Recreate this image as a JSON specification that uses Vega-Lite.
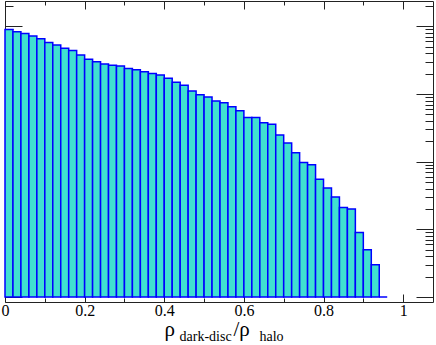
{
  "$schema": "https://vega.github.io/schema/vega-lite/v6.json",
  "width": 428,
  "height": 301,
  "autosize": "none",
  "padding": {"left": 5, "top": 1, "right": 3, "bottom": 43},
  "background": "white",
  "config": {
    "view": {"stroke": "#222", "strokeWidth": 1},
    "axis": {"domain": false, "grid": false, "tickColor": "#222", "tickWidth": 1, "labelFont": "Liberation Serif", "titleFont": "Liberation Serif", "labelColor": "#000", "titleColor": "#000", "titleFontWeight": "normal", "zindex": 1}
  },
  "data": {"values": [
    {"lo": 0.00, "hi": 0.02, "n": 8974}, {"lo": 0.02, "hi": 0.04, "n": 8293}, {"lo": 0.04, "hi": 0.06, "n": 7866},
    {"lo": 0.06, "hi": 0.08, "n": 7197}, {"lo": 0.08, "hi": 0.10, "n": 6587}, {"lo": 0.10, "hi": 0.12, "n": 5772},
    {"lo": 0.12, "hi": 0.14, "n": 5296}, {"lo": 0.14, "hi": 0.16, "n": 4742}, {"lo": 0.16, "hi": 0.18, "n": 4395},
    {"lo": 0.18, "hi": 0.20, "n": 3790}, {"lo": 0.20, "hi": 0.22, "n": 3268}, {"lo": 0.22, "hi": 0.24, "n": 3011},
    {"lo": 0.24, "hi": 0.26, "n": 2773}, {"lo": 0.26, "hi": 0.28, "n": 2656}, {"lo": 0.28, "hi": 0.30, "n": 2596},
    {"lo": 0.30, "hi": 0.32, "n": 2375}, {"lo": 0.32, "hi": 0.34, "n": 2275}, {"lo": 0.34, "hi": 0.36, "n": 2131},
    {"lo": 0.36, "hi": 0.38, "n": 2015}, {"lo": 0.38, "hi": 0.40, "n": 1910}, {"lo": 0.40, "hi": 0.42, "n": 1709},
    {"lo": 0.42, "hi": 0.44, "n": 1499}, {"lo": 0.44, "hi": 0.46, "n": 1344}, {"lo": 0.46, "hi": 0.48, "n": 1104},
    {"lo": 0.48, "hi": 0.50, "n": 977}, {"lo": 0.50, "hi": 0.52, "n": 906}, {"lo": 0.52, "hi": 0.54, "n": 789},
    {"lo": 0.54, "hi": 0.56, "n": 744}, {"lo": 0.56, "hi": 0.58, "n": 646}, {"lo": 0.58, "hi": 0.60, "n": 566},
    {"lo": 0.60, "hi": 0.62, "n": 450}, {"lo": 0.62, "hi": 0.64, "n": 450}, {"lo": 0.64, "hi": 0.66, "n": 377},
    {"lo": 0.66, "hi": 0.68, "n": 358}, {"lo": 0.68, "hi": 0.70, "n": 249}, {"lo": 0.70, "hi": 0.72, "n": 189},
    {"lo": 0.72, "hi": 0.74, "n": 136}, {"lo": 0.74, "hi": 0.76, "n": 97}, {"lo": 0.76, "hi": 0.78, "n": 90},
    {"lo": 0.78, "hi": 0.80, "n": 55}, {"lo": 0.80, "hi": 0.82, "n": 41}, {"lo": 0.82, "hi": 0.84, "n": 30},
    {"lo": 0.84, "hi": 0.86, "n": 21}, {"lo": 0.86, "hi": 0.88, "n": 20}, {"lo": 0.88, "hi": 0.90, "n": 9},
    {"lo": 0.90, "hi": 0.92, "n": 5}, {"lo": 0.92, "hi": 0.94, "n": 3}, {"lo": 0.94, "hi": 0.96, "n": 1}
  ]},
  "layer": [
    {
      "mark": {"type": "bar", "fill": "#40E0D0", "stroke": "#0000FF", "strokeWidth": 1.5},
      "encoding": {
        "x": {"field": "lo", "type": "quantitative", "scale": {"domain": [0, 1.075], "nice": false, "zero": false},
          "axis": {"orient": "bottom", "title": null, "values": [0, 0.1, 0.2, 0.3, 0.4, 0.5, 0.6, 0.7, 0.8, 0.9, 1.0],
            "format": "~g", "labelFontSize": 16, "labelPadding": 8, "labelFlush": false,
            "labelExpr": "round(datum.value*10) % 2 == 0 ? datum.label : ''",
            "tickSize": {"condition": {"test": "abs(datum.value*5 - round(datum.value*5)) < 1e-6", "value": -8}, "value": -4}}},
        "x2": {"field": "hi"},
        "y": {"field": "n", "type": "quantitative", "scale": {"type": "log", "domain": [1, 20000], "nice": false},
          "axis": {"orient": "left", "title": null, "labels": false,
            "values": [1,2,3,4,5,6,7,8,9,10,20,30,40,50,60,70,80,90,100,200,300,400,500,600,700,800,900,1000,2000,3000,4000,5000,6000,7000,8000,9000,10000,20000],
            "tickSize": {"condition": {"test": "abs(log(datum.value)/LN10 - round(log(datum.value)/LN10)) < 1e-6", "value": -17}, "value": -8}}},
        "y2": {"datum": 1}
      }
    },
    {
      "mark": {"type": "bar", "opacity": 0},
      "encoding": {
        "x": {"field": "lo", "type": "quantitative", "scale": {"domain": [0, 1.075], "nice": false, "zero": false},
          "axis": {"orient": "top", "title": null, "labels": false, "values": [0, 0.1, 0.2, 0.3, 0.4, 0.5, 0.6, 0.7, 0.8, 0.9, 1.0],
            "tickSize": {"condition": {"test": "abs(datum.value*5 - round(datum.value*5)) < 1e-6", "value": -8}, "value": -4}}},
        "x2": {"field": "hi"},
        "y": {"field": "n", "type": "quantitative", "scale": {"type": "log", "domain": [1, 20000], "nice": false},
          "axis": {"orient": "right", "title": null, "labels": false,
            "values": [1,2,3,4,5,6,7,8,9,10,20,30,40,50,60,70,80,90,100,200,300,400,500,600,700,800,900,1000,2000,3000,4000,5000,6000,7000,8000,9000,10000,20000],
            "tickSize": {"condition": {"test": "abs(log(datum.value)/LN10 - round(log(datum.value)/LN10)) < 1e-6", "value": -17}, "value": -8}}}
      }
    },
    {
      "mark": {"type": "bar", "opacity": 0},
      "encoding": {
        "x": {"field": "lo", "type": "quantitative", "scale": {"domain": [0, 1.075], "nice": false, "zero": false},
          "axis": {"orient": "bottom", "ticks": false, "labels": false, "title": "ρ", "titleFontSize": 21, "titleAlign": "left", "titleBaseline": "alphabetic", "titleAnchor": "start", "titleX": 159, "titleY": 33}},
        "x2": {"field": "hi"},
        "y": {"field": "n", "type": "quantitative", "scale": {"type": "log", "domain": [1, 20000], "nice": false}, "axis": null}
      }
    },
    {
      "mark": {"type": "bar", "opacity": 0},
      "encoding": {
        "x": {"field": "lo", "type": "quantitative", "scale": {"domain": [0, 1.075], "nice": false, "zero": false},
          "axis": {"orient": "bottom", "ticks": false, "labels": false, "title": "dark-disc", "titleFontSize": 14, "titleAlign": "left", "titleBaseline": "alphabetic", "titleAnchor": "start", "titleX": 174, "titleY": 38}},
        "x2": {"field": "hi"},
        "y": {"field": "n", "type": "quantitative", "scale": {"type": "log", "domain": [1, 20000], "nice": false}, "axis": null}
      }
    },
    {
      "mark": {"type": "bar", "opacity": 0},
      "encoding": {
        "x": {"field": "lo", "type": "quantitative", "scale": {"domain": [0, 1.075], "nice": false, "zero": false},
          "axis": {"orient": "bottom", "ticks": false, "labels": false, "title": "/ρ", "titleFontSize": 21, "titleAlign": "left", "titleBaseline": "alphabetic", "titleAnchor": "start", "titleX": 228, "titleY": 33}},
        "x2": {"field": "hi"},
        "y": {"field": "n", "type": "quantitative", "scale": {"type": "log", "domain": [1, 20000], "nice": false}, "axis": null}
      }
    },
    {
      "mark": {"type": "bar", "opacity": 0},
      "encoding": {
        "x": {"field": "lo", "type": "quantitative", "scale": {"domain": [0, 1.075], "nice": false, "zero": false},
          "axis": {"orient": "bottom", "ticks": false, "labels": false, "title": "halo", "titleFontSize": 14, "titleAlign": "left", "titleBaseline": "alphabetic", "titleAnchor": "start", "titleX": 254, "titleY": 38}},
        "x2": {"field": "hi"},
        "y": {"field": "n", "type": "quantitative", "scale": {"type": "log", "domain": [1, 20000], "nice": false}, "axis": null}
      }
    }
  ],
  "resolve": {"axis": {"x": "independent", "y": "independent"}}
}
